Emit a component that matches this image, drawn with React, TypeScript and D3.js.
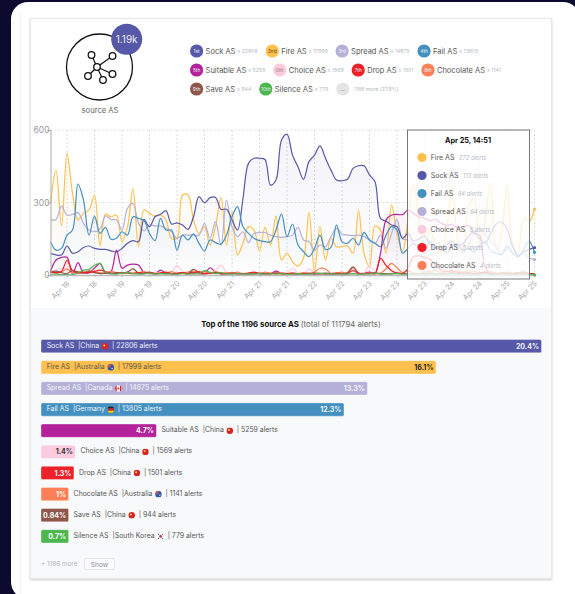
import { useEffect, useRef } from "react";
import * as d3 from "d3";

const FONT = "Inter, 'Open Sans', sans-serif";

const names = ["Sock AS", "Fire AS", "Spread AS", "Fail AS", "Suitable AS", "Choice AS", "Drop AS", "Chocolate AS", "Save AS", "Silence AS"];
const ranks = ["1st", "2nd", "3rd", "4th", "5th", "6th", "7th", "8th", "9th", "10th"];
const totals = [22806, 17999, 14875, 13805, 5259, 1569, 1501, 1141, 944, 779];
const shares = ["20.4%", "16.1%", "13.3%", "12.3%", "4.7%", "1.4%", "1.3%", "1%", "0.84%", "0.7%"];
const countries = ["China", "Australia", "Canada", "Germany", "China", "China", "China", "Australia", "China", "South Korea"];
const colors = ["#5659a8", "#ffc04d", "#b5b0d8", "#4490c0", "#b5219a", "#fccbdd", "#ee2028", "#fb8055", "#8f564b", "#4cb64f"];
const shareInk = ["#f1f1fa", "#222", "#f4f4fb", "#f1f6fa", "#fff", "#333", "#fff", "#fff", "#fff", "#fff"];

const tickLabels = ["Apr 18", "Apr 18", "Apr 19", "Apr 19", "Apr 20", "Apr 20", "Apr 21", "Apr 21", "Apr 21", "Apr 22", "Apr 22", "Apr 23", "Apr 23", "Apr 23", "Apr 24", "Apr 24", "Apr 25", "Apr 25"];
const tickIndex = [3, 8, 13, 18, 23, 28, 33, 38, 43, 48, 53, 58, 63, 68, 73, 78, 83, 88];

const fire = [296, 434, 203, 503, 338, 228, 255, 269, 330, 120, 252, 241, 248, 138, 200, 358, 117, 269, 255, 244, 248, 228, 152, 152, 331, 331, 228, 172, 200, 124, 200, 321, 124, 262, 83, 131, 200, 186, 100, 197, 124, 244, 62, 90, 55, 37, 69, 259, 14, 200, 62, 152, 117, 117, 120, 90, 266, 90, 35, 203, 186, 90, 290, 172, 97, 228, 379, 228, 83, 186, 131, 90, 186, 365, 159, 90, 283, 317, 117, 228, 379, 103, 172, 372, 131, 90, 234, 221, 272];
const sock = [90, 83, 83, 120, 90, 96, 114, 120, 110, 106, 106, 100, 96, 110, 131, 142, 138, 230, 200, 241, 251, 266, 211, 216, 207, 189, 241, 324, 299, 320, 321, 272, 272, 228, 186, 317, 462, 483, 483, 478, 372, 393, 558, 583, 496, 448, 396, 469, 496, 534, 483, 434, 393, 390, 396, 441, 452, 452, 414, 386, 234, 223, 207, 200, 152, 172, 140, 150, 160, 130, 110, 115, 125, 140, 120, 130, 160, 180, 150, 130, 170, 210, 220, 190, 120, 80, 95, 105, 113];
const spread = [228, 230, 285, 248, 251, 258, 214, 186, 179, 190, 245, 230, 228, 186, 276, 296, 214, 183, 207, 203, 203, 193, 179, 152, 165, 165, 165, 165, 214, 152, 221, 124, 310, 200, 159, 179, 134, 172, 176, 176, 165, 159, 156, 159, 165, 197, 145, 138, 103, 124, 117, 159, 193, 170, 165, 163, 165, 159, 145, 131, 165, 110, 172, 228, 150, 145, 130, 120, 110, 100, 115, 100, 110, 130, 110, 90, 125, 175, 190, 170, 140, 120, 85, 110, 120, 75, 90, 70, 64];
const fail = [138, 103, 110, 165, 186, 376, 310, 165, 244, 172, 197, 148, 152, 179, 165, 241, 234, 225, 172, 142, 234, 186, 186, 103, 165, 145, 170, 131, 100, 145, 134, 128, 165, 241, 283, 200, 172, 152, 142, 138, 138, 186, 252, 159, 211, 124, 97, 76, 110, 165, 106, 114, 207, 138, 131, 152, 124, 176, 145, 131, 117, 165, 200, 186, 90, 110, 130, 110, 90, 140, 110, 120, 90, 120, 130, 100, 110, 95, 120, 140, 100, 90, 85, 120, 90, 75, 105, 140, 94];
const suitable = [14, 62, 73, 73, 4, 51, 8, 10, 28, 48, 8, 14, 103, 28, 41, 45, 41, 10, 6, 5, 20, 8, 5, 4, 8, 6, 12, 5, 6, 30, 12, 5, 5, 6, 5, 6, 5, 8, 4, 6, 5, 16, 6, 5, 4, 5, 6, 5, 4, 5, 5, 4, 6, 4, 5, 6, 5, 8, 12, 10, 90, 228, 248, 251, 250, 269, 255, 240, 235, 225, 230, 215, 205, 210, 195, 200, 205, 172, 165, 34, 8, 6, 5, 8, 6, 5, 4, 6, 5];
const choice = [8, 20, 28, 22, 10, 6, 8, 12, 10, 8, 6, 5, 6, 8, 12, 6, 5, 8, 6, 10, 8, 6, 12, 39, 15, 6, 5, 6, 8, 6, 20, 41, 12, 5, 6, 8, 5, 6, 5, 8, 6, 5, 8, 10, 28, 8, 5, 25, 8, 5, 6, 8, 5, 6, 8, 5, 6, 8, 37, 15, 6, 5, 8, 5, 6, 5, 8, 6, 5, 8, 6, 8, 5, 6, 5, 8, 6, 5, 6, 8, 5, 6, 8, 5, 6, 5, 6, 5, 5];
const drop = [12, 10, 15, 60, 18, 8, 12, 10, 15, 20, 14, 8, 6, 10, 8, 6, 10, 8, 12, 6, 8, 12, 6, 8, 10, 6, 8, 14, 6, 8, 10, 6, 5, 8, 6, 5, 8, 12, 6, 5, 6, 8, 5, 6, 8, 5, 6, 5, 8, 6, 5, 6, 8, 5, 6, 18, 6, 5, 8, 5, 69, 40, 18, 8, 6, 28, 76, 79, 73, 65, 41, 20, 15, 18, 12, 8, 10, 6, 8, 12, 6, 5, 8, 6, 5, 8, 6, 5, 5];
const chocolate = [18, 8, 12, 25, 10, 14, 8, 18, 12, 10, 8, 15, 10, 6, 12, 8, 10, 14, 8, 6, 10, 8, 14, 6, 10, 12, 16, 8, 14, 6, 14, 8, 10, 6, 12, 5, 8, 10, 6, 12, 8, 6, 10, 5, 8, 6, 10, 5, 12, 28, 25, 6, 8, 12, 5, 30, 8, 6, 10, 5, 8, 25, 48, 30, 10, 18, 8, 6, 12, 15, 20, 8, 14, 10, 16, 12, 18, 15, 10, 12, 14, 8, 6, 12, 8, 10, 14, 6, 4];
const save = [12, 16, 10, 6, 18, 12, 8, 14, 10, 6, 8, 6, 10, 8, 12, 25, 8, 6, 10, 5, 6, 8, 5, 6, 8, 6, 23, 10, 5, 8, 10, 5, 6, 8, 5, 6, 4, 5, 8, 5, 6, 8, 5, 6, 5, 4, 6, 8, 5, 6, 8, 5, 4, 6, 10, 34, 8, 5, 6, 8, 5, 6, 4, 8, 6, 5, 4, 6, 5, 8, 6, 4, 5, 8, 6, 5, 4, 6, 5, 8, 5, 6, 8, 5, 4, 6, 10, 6, 4];
const silence = [3, 4, 2, 2, 1, 8, 20, 23, 40, 48, 12, 6, 4, 8, 10, 6, 4, 5, 8, 4, 6, 4, 5, 3, 6, 4, 5, 6, 18, 12, 6, 10, 5, 4, 6, 4, 5, 3, 6, 4, 5, 4, 6, 3, 4, 6, 3, 4, 5, 8, 4, 6, 3, 5, 4, 6, 3, 5, 4, 8, 4, 3, 5, 6, 3, 4, 6, 5, 3, 4, 5, 3, 4, 6, 3, 4, 5, 3, 4, 6, 3, 4, 5, 3, 4, 3, 5, 2, 1];

const seriesValues = [sock, fire, spread, fail, suitable, choice, drop, chocolate, save, silence];
const drawOrder = [1, 2, 0, 3, 4, 5, 7, 8, 6, 9];

const tooltipRows = ["Fire AS", "Sock AS", "Fail AS", "Spread AS", "Choice AS", "Drop AS", "Chocolate AS"];
const tooltipAlerts = ["272 alerts", "113 alerts", "94 alerts", "64 alerts", "5 alerts", "5 alerts", "4 alerts"];
const tooltipColors = ["#ffc04d", "#5659a8", "#4490c0", "#b5b0d8", "#fccbdd", "#ee2028", "#fb8055"];
const endDots = [[272, "#ffc04d"], [113, "#5659a8"], [94, "#4490c0"], [64, "#b5b0d8"], [1, "#4cb64f"]] as [number, string][];

const legendRows = [[0, 1, 2, 3], [4, 5, 6, 7], [8, 9]];
const iconNodes = [[91.5, 55], [112.5, 56], [88, 76], [112.5, 74], [103, 80]];

type Sel = d3.Selection<any, any, any, any>;

function addText(g: Sel, x: number, y: number, str: string, size: number, fill: string, weight = 400) {
  return g.append("text")
    .attr("x", x).attr("y", y)
    .attr("font-family", FONT)
    .attr("font-size", size)
    .attr("font-weight", weight)
    .attr("fill", fill)
    .text(str);
}

function drawFlag(g: Sel, cx: number, cy: number, country: string) {
  const r = 3.3;
  const id = `flag-${country.replace(" ", "")}-${Math.round(cx)}-${Math.round(cy)}`;
  g.append("clipPath").attr("id", id).append("circle").attr("cx", cx).attr("cy", cy).attr("r", r);
  const f = g.append("g").attr("clip-path", `url(#${id})`);
  const band = (x: number, y: number, w: number, h: number, fill: string) =>
    f.append("rect").attr("x", x).attr("y", y).attr("width", w).attr("height", h).attr("fill", fill);
  if (country === "China") {
    band(cx - r, cy - r, 2 * r, 2 * r, "#d8232a");
    f.append("circle").attr("cx", cx - 0.8).attr("cy", cy - 0.8).attr("r", 1).attr("fill", "#ffd83d");
  } else if (country === "Australia") {
    band(cx - r, cy - r, 2 * r, 2 * r, "#2a5aa5");
    band(cx - r, cy - r, r, r, "#c9525e");
    f.append("circle").attr("cx", cx + 1.4).attr("cy", cy + 1).attr("r", 0.6).attr("fill", "#fff");
  } else if (country === "Canada") {
    band(cx - r, cy - r, 2 * r, 2 * r, "#fff");
    band(cx - r, cy - r, 1.7, 2 * r, "#d8232a");
    band(cx + r - 1.7, cy - r, 1.7, 2 * r, "#d8232a");
    f.append("circle").attr("cx", cx).attr("cy", cy).attr("r", 1).attr("fill", "#d8232a");
  } else if (country === "Germany") {
    band(cx - r, cy - r, 2 * r, 2.2, "#222");
    band(cx - r, cy - r + 2.2, 2 * r, 2.2, "#d8232a");
    band(cx - r, cy - r + 4.4, 2 * r, 2.2, "#fc0");
  } else {
    band(cx - r, cy - r, 2 * r, 2 * r, "#f3f3f3");
    f.append("circle").attr("cx", cx).attr("cy", cy).attr("r", 1.4).attr("fill", "#c23b4e");
    f.append("path").attr("d", `M${cx - 3} ${cy - 3}L${cx - 1.6} ${cy - 1.6}M${cx + 3} ${cy - 3}L${cx + 1.6} ${cy - 1.6}M${cx - 3} ${cy + 3}L${cx - 1.6} ${cy + 1.6}M${cx + 3} ${cy + 3}L${cx + 1.6} ${cy + 1.6}`).attr("stroke", "#333").attr("stroke-width", 0.9);
  }
}

export default function App() {
  const svgRef = useRef<SVGSVGElement>(null);

  useEffect(() => {
    const svg = d3.select(svgRef.current);
    svg.selectAll("*").remove();

    // page and panels
    svg.append("rect").attr("width", 575).attr("height", 594).attr("fill", "#0c0a2e");
    svg.append("rect").attr("x", 11).attr("y", 2).attr("width", 569).attr("height", 597).attr("rx", 17).attr("fill", "#fff");
    svg.append("line").attr("x1", 20.5).attr("x2", 20.5).attr("y1", 12).attr("y2", 594).attr("stroke", "#f1f1f1");

    const defs = svg.append("defs");
    const shadow = defs.append("filter").attr("id", "panelShadow").attr("x", "-5%").attr("y", "-5%").attr("width", "110%").attr("height", "110%");
    shadow.append("feDropShadow").attr("dx", 0).attr("dy", 1).attr("stdDeviation", 1.2).attr("flood-color", "#000").attr("flood-opacity", 0.2);

    svg.append("rect").attr("x", 30.5).attr("y", 18.5).attr("width", 521).attr("height", 560).attr("fill", "#fff").attr("stroke", "#e8e8e8").attr("filter", "url(#panelShadow)");
    svg.append("rect").attr("x", 31).attr("y", 308).attr("width", 520).attr("height", 270).attr("fill", "#f8f9fb");

    // header icon
    const icon = svg.append("g");
    icon.append("circle").attr("cx", 99.5).attr("cy", 67).attr("r", 33).attr("fill", "#fff").attr("stroke", "#111").attr("stroke-width", 1.3);
    iconNodes.forEach(([x, y]) => {
      icon.append("line").attr("x1", 97).attr("y1", 67).attr("x2", x).attr("y2", y).attr("stroke", "#111").attr("stroke-width", 1.2);
    });
    icon.append("circle").attr("cx", 97).attr("cy", 67).attr("r", 3.3).attr("fill", "#fff").attr("stroke", "#111").attr("stroke-width", 1.3);
    iconNodes.forEach(([x, y]) => {
      icon.append("circle").attr("cx", x).attr("cy", y).attr("r", 3.3).attr("fill", "#fff").attr("stroke", "#111").attr("stroke-width", 1.3);
    });
    icon.append("circle").attr("cx", 126.7).attr("cy", 39.3).attr("r", 15.5).attr("fill", "#5659a8");
    addText(icon, 126.7, 43, "1.19k", 10, "#eeeefa").attr("text-anchor", "middle");
    addText(icon, 100, 112.5, "source AS", 7.6, "#666").attr("text-anchor", "middle");

    // legend chips
    const legend = svg.append("g");
    const rowY = [51, 70, 89];
    legendRows.forEach((row, r) => {
      let cx = 196.6;
      row.forEach((s) => {
        legend.append("circle").attr("cx", cx).attr("cy", rowY[r]).attr("r", 6.6).attr("fill", colors[s]);
        addText(legend, cx, rowY[r] + 1.8, ranks[s], 4.8, s === 1 ? "#5a4a20" : s === 5 ? "#9a7a8a" : "#f0f0f4").attr("text-anchor", "middle");
        const label = addText(legend, cx + 9, rowY[r] + 2.8, names[s], 7.5, "#555");
        const labelEnd = cx + 9 + (label.node() as SVGTextElement).getComputedTextLength();
        const count = addText(legend, labelEnd + 2, rowY[r] + 2, `x ${totals[s]}`, 5.2, "#b4bac6");
        cx = labelEnd + 2 + (count.node() as SVGTextElement).getComputedTextLength() + 14.5;
      });
      if (r === 2) {
        legend.append("circle").attr("cx", cx).attr("cy", rowY[r]).attr("r", 6.6).attr("fill", "#e4e4e4");
        addText(legend, cx, rowY[r] + 1.8, "...", 5, "#888").attr("text-anchor", "middle");
        addText(legend, cx + 11, rowY[r] + 2, "1186 more (27.8%)", 5.2, "#b4bac6");
      }
    });

    // chart
    const x = d3.scaleLinear().domain([0, 88]).range([50.5, 534.5]);
    const y = d3.scaleLinear().domain([0, 600]).range([275, 130]);

    const grid = svg.append("g").attr("stroke", "#dcdcdc").attr("stroke-dasharray", "2,2");
    tickIndex.forEach((t) => {
      grid.append("line").attr("x1", x(t)).attr("x2", x(t)).attr("y1", y(600)).attr("y2", y(0));
    });
    [300, 600].forEach((v) => {
      grid.append("line").attr("x1", x(0)).attr("x2", x(88)).attr("y1", y(v)).attr("y2", y(v));
    });

    defs.append("clipPath").attr("id", "plotClip").append("rect").attr("x", 50).attr("y", 125).attr("width", 488).attr("height", 150.5);

    const line = d3.line<number>().x((_, i) => x(i)).y((d) => y(d)).curve(d3.curveCatmullRom.alpha(0.5));
    const area = d3.area<number>().x((_, i) => x(i)).y0(y(0)).y1((d) => y(d)).curve(d3.curveCatmullRom.alpha(0.5));
    const plot = svg.append("g").attr("clip-path", "url(#plotClip)");

    drawOrder.forEach((s) => {
      const grad = defs.append("linearGradient").attr("id", `fade${s}`).attr("x1", 0).attr("x2", 0).attr("y1", 0).attr("y2", 1);
      grad.append("stop").attr("offset", "0%").attr("stop-color", colors[s]).attr("stop-opacity", 0.07);
      grad.append("stop").attr("offset", "100%").attr("stop-color", colors[s]).attr("stop-opacity", 0);
      plot.append("path").datum(seriesValues[s]).attr("d", area).attr("fill", `url(#fade${s})`);
    });
    drawOrder.forEach((s) => {
      plot.append("path").datum(seriesValues[s]).attr("d", line)
        .attr("fill", "none").attr("stroke", colors[s]).attr("stroke-width", 1.2);
    });

    const yAxis = svg.append("g").attr("transform", `translate(${x(0)},0)`)
      .call(d3.axisLeft(y).tickValues([0, 300, 600]).tickSize(3));
    yAxis.select(".domain").attr("stroke", "#aaa");
    yAxis.selectAll(".tick line").attr("stroke", "#aaa");
    yAxis.selectAll(".tick text").attr("fill", "#999").attr("font-family", FONT).attr("font-size", 8.5).attr("x", -1);

    const xAxis = svg.append("g").attr("transform", `translate(0,${y(0)})`)
      .call(d3.axisBottom(x).tickValues(tickIndex).tickSize(2).tickFormat((_, i) => tickLabels[i]));
    xAxis.select(".domain").attr("stroke", "#bbb").attr("stroke-width", 1.4);
    xAxis.selectAll(".tick line").attr("stroke", "#bbb");
    xAxis.selectAll(".tick text")
      .attr("fill", "#aaa").attr("font-family", FONT).attr("font-size", 7.4)
      .attr("text-anchor", "end").attr("dy", 0).attr("y", 0)
      .attr("transform", "translate(2.5,9) rotate(-45)");

    // tooltip sits over the last days
    const tip = svg.append("g");
    tip.append("rect").attr("x", 407.5).attr("y", 130).attr("width", 122).attr("height", 149)
      .attr("fill", "#fff").attr("fill-opacity", 0.78).attr("stroke", "#777");
    addText(tip, 468, 142.5, "Apr 25, 14:51", 7.3, "#111", 700).attr("text-anchor", "middle");
    tooltipRows.forEach((row, i) => {
      const cy = 157.5 + i * 18;
      tip.append("circle").attr("cx", 422).attr("cy", cy).attr("r", 4.6).attr("fill", tooltipColors[i]);
      const label = addText(tip, 430.7, cy + 2.8, row, 7, "#555");
      const end = 430.7 + (label.node() as SVGTextElement).getComputedTextLength();
      addText(tip, end + 4.5, cy + 2, tooltipAlerts[i], 5.8, "#b4bac6").attr("font-style", "italic");
    });

    endDots.forEach(([v, c]) => {
      svg.append("circle").attr("cx", x(88)).attr("cy", y(v)).attr("r", 1.6).attr("fill", c);
    });

    // bars
    const title = svg.append("text").attr("x", 291).attr("y", 327).attr("text-anchor", "middle").attr("font-family", FONT).attr("font-size", 7.8);
    title.append("tspan").attr("font-weight", 700).attr("fill", "#111").text("Top of the 1196 source AS ");
    title.append("tspan").attr("fill", "#666").text("(total of 111794 alerts)");

    const barX = d3.scaleLinear().domain([0, totals[0]]).range([0, 500.5]);
    const barY = d3.scaleBand<number>().domain(d3.range(names.length)).range([339.5, 543]).paddingInner(0.37).paddingOuter(0);
    const minBar = 27.6;
    const insideInk = ["#eef", "#555", "#f4f4fb", "#eef6fb"];

    names.forEach((name, i) => {
      const by = barY(i)!;
      const bh = barY.bandwidth();
      const w = Math.max(barX(totals[i]), minBar);
      svg.append("rect").attr("x", 41).attr("y", by).attr("width", w).attr("height", bh).attr("rx", 1.5)
        .attr("fill", colors[i]).attr("stroke", "#fff").attr("stroke-opacity", 0.35);
      addText(svg, 41 + w - 2.5, by + bh / 2 + 2.6, shares[i], 7, shareInk[i], 700).attr("text-anchor", "end");

      const inside = i < 4;
      const ink = inside ? insideInk[i] : "#555";
      let cur = inside ? 46.7 : 41 + w + 5;
      const ty = by + bh / 2 + 1.6;
      const put = (str: string) => {
        const t = addText(svg, cur, ty, str, 6.9, ink);
        cur += (t.node() as SVGTextElement).getComputedTextLength();
      };
      put(name);
      cur += 4;
      put(`|${countries[i]}`);
      drawFlag(svg, cur + 6, ty - 1.5, countries[i]);
      cur += 13;
      put(`| ${totals[i]} alerts`);
    });

    // footer
    addText(svg, 41, 566, "+ 1186 more", 6.4, "#b0b6c2");
    svg.append("rect").attr("x", 84.5).attr("y", 558.5).attr("width", 30).attr("height", 11).attr("rx", 1.5).attr("fill", "#fafbfc").attr("stroke", "#e6e6e6");
    addText(svg, 99.5, 566.5, "Show", 6.6, "#8a8f99").attr("text-anchor", "middle");
  }, []);

  return <svg ref={svgRef} width={575} height={594} style={{ position: "fixed", left: 0, top: 0 }} />;
}
